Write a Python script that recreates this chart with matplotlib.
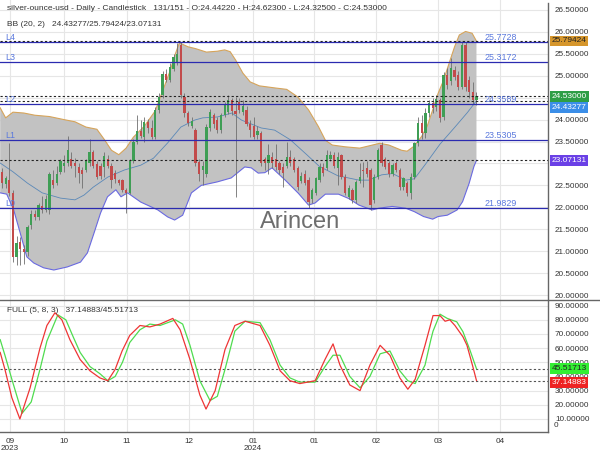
import numpy as np
import matplotlib.pyplot as plt
from matplotlib.lines import Line2D
from matplotlib.transforms import blended_transform_factory

plt.rcParams['font.family'] = ['Liberation Sans', 'DejaVu Sans']

# daily candles, silver-ounce-usd
opens = [22.80, 22.53, 22.62, 22.32, 20.87, 21.20, 21.05, 20.98, 21.60, 21.85,
         21.78, 22.02, 21.95, 21.95, 22.62, 22.55, 22.80, 22.95, 23.00, 23.10,
         23.00, 22.93, 22.85, 22.85, 23.00, 23.25, 22.98, 22.95, 22.92, 23.10,
         22.95, 22.78, 22.62, 22.62, 22.40, 22.32, 23.05, 23.50, 23.75, 23.60,
         23.95, 23.80, 23.60, 24.22, 24.55, 25.05, 24.90, 25.15, 25.30, 25.70,
         24.52, 24.14, 23.85, 23.76, 23.04, 22.85, 22.77, 23.80, 24.10, 24.00,
         23.76, 24.10, 24.18, 24.45, 24.20, 24.40, 24.18, 24.22, 23.91, 23.85,
         23.65, 23.69, 23.10, 23.00, 23.15, 23.10, 23.00, 22.93, 22.95, 23.15,
         23.10, 22.89, 22.60, 22.77, 22.62, 22.20, 22.32, 22.62, 22.93, 22.89,
         23.10, 23.20, 22.89, 23.19, 22.70, 22.24, 22.40, 22.16, 22.60, 22.85,
         22.90, 22.85, 22.16, 22.70, 23.42, 23.10, 23.00, 22.77, 23.00, 22.85,
         22.47, 22.55, 22.32, 22.70, 23.46, 23.92, 23.69, 24.14, 24.37, 24.29,
         24.45, 24.07, 25.02, 24.87, 25.13, 25.02, 24.75, 25.70, 24.90, 24.62,
         24.4422]
highs = [22.90, 22.72, 23.47, 22.40, 21.35, 21.33, 21.15, 21.60, 21.95, 21.95,
         22.10, 22.25, 22.28, 22.80, 22.85, 22.95, 23.10, 23.20, 23.62, 23.25,
         23.12, 23.00, 22.92, 23.10, 23.55, 23.30, 23.05, 23.00, 23.25, 23.20,
         23.00, 22.85, 22.65, 22.65, 22.45, 23.10, 23.55, 24.10, 24.00, 24.05,
         24.02, 23.98, 24.28, 24.60, 25.10, 25.15, 25.30, 25.50, 25.74, 25.76,
         24.60, 24.20, 24.05, 23.80, 23.10, 23.05, 23.90, 24.25, 24.15, 24.05,
         24.15, 24.40, 24.56, 24.50, 24.52, 24.50, 24.45, 24.30, 24.00, 24.05,
         23.85, 23.75, 23.15, 23.45, 23.25, 23.45, 23.05, 23.00, 23.50, 23.30,
         23.15, 22.95, 22.80, 22.85, 22.68, 22.45, 22.70, 23.00, 23.00, 23.30,
         23.28, 23.25, 23.25, 23.22, 22.75, 22.50, 22.45, 22.62, 23.00, 23.04,
         23.05, 22.90, 22.75, 23.35, 23.48, 23.15, 23.05, 23.00, 23.05, 22.90,
         22.70, 22.60, 22.78, 23.50, 24.05, 24.10, 24.26, 24.45, 24.50, 24.56,
         24.50, 25.08, 25.17, 25.40, 25.22, 25.10, 25.77, 25.77, 25.00, 24.85,
         24.623]
lows = [22.45, 22.45, 22.25, 20.75, 20.68, 20.68, 20.70, 20.90, 21.50, 21.70,
        21.70, 21.88, 21.90, 21.85, 22.45, 22.50, 22.75, 22.80, 22.95, 22.90,
        22.70, 22.55, 22.45, 22.80, 22.95, 22.90, 22.65, 22.65, 22.70, 22.90,
        22.45, 22.55, 22.50, 22.35, 21.86, 22.30, 23.00, 23.45, 23.58, 23.50,
        23.70, 23.55, 23.55, 24.15, 24.50, 24.85, 24.85, 25.10, 25.25, 24.50,
        24.05, 23.85, 23.80, 22.95, 22.60, 22.50, 22.70, 23.75, 23.80, 23.70,
        23.70, 24.05, 24.12, 24.10, 22.24, 24.15, 24.10, 23.85, 23.60, 23.55,
        23.55, 22.95, 22.85, 22.75, 22.90, 22.85, 22.75, 22.47, 22.90, 22.95,
        22.80, 22.40, 22.55, 22.50, 21.98, 22.10, 22.28, 22.58, 22.72, 22.85,
        23.05, 22.90, 22.50, 22.65, 22.28, 22.20, 22.10, 22.10, 22.55, 22.47,
        22.70, 21.94, 22.10, 22.65, 22.95, 22.88, 22.70, 22.72, 22.80, 22.40,
        22.40, 22.25, 22.20, 22.65, 23.40, 23.55, 23.57, 24.05, 24.15, 24.20,
        23.95, 24.00, 24.70, 24.80, 24.90, 24.68, 24.70, 24.65, 24.50, 24.35,
        24.325]
closes = [22.55, 22.66, 22.32, 20.87, 21.18, 21.05, 20.98, 21.55, 21.85, 21.78,
          22.05, 21.95, 22.20, 22.75, 22.50, 22.77, 23.05, 23.00, 23.30, 22.95,
          22.95, 22.78, 22.75, 23.05, 23.25, 22.95, 22.70, 22.72, 23.17, 22.95,
          22.62, 22.65, 22.55, 22.40, 22.33, 23.05, 23.50, 23.75, 23.62, 23.95,
          23.80, 23.60, 24.22, 24.52, 25.05, 24.90, 25.20, 25.43, 25.50, 24.55,
          24.14, 23.92, 23.97, 23.00, 22.77, 22.95, 23.84, 24.18, 23.90, 23.76,
          24.10, 24.33, 24.45, 24.20, 24.12, 24.22, 24.30, 23.91, 23.76, 23.60,
          23.75, 23.00, 23.00, 23.20, 23.00, 22.92, 22.85, 22.78, 23.15, 23.00,
          22.85, 22.47, 22.72, 22.55, 22.13, 22.40, 22.66, 22.93, 22.78, 23.19,
          23.20, 22.95, 23.15, 22.70, 22.32, 22.43, 22.16, 22.58, 22.70, 22.82,
          22.75, 22.05, 22.70, 23.30, 23.00, 22.93, 22.77, 22.96, 22.85, 22.47,
          22.66, 22.32, 22.70, 23.46, 23.92, 23.69, 24.14, 24.37, 24.26, 24.48,
          24.03, 25.02, 24.79, 25.17, 24.98, 24.75, 25.70, 24.75, 24.63, 24.44,
          24.53]

# Bollinger band (20, 2), at candle positions
bb_up_x = [-0.5, 1, 3, 6, 9, 13, 17, 20, 23, 26, 28, 30, 32, 34, 36, 39, 42, 44, 46,
           47.5, 48.6, 51, 53, 56, 59, 61, 62.5, 64, 66, 68, 70.5, 75, 78, 81, 84,
           86.7, 88.6, 90.5, 94, 98, 101.5, 103.5, 106, 109.5, 111, 113, 115, 116.5,
           118, 119.5, 121, 122.8, 124, 125.3, 127, 128.8, 130]
bb_up = [24.27, 24.04, 24.17, 24.15, 24.10, 24.07, 24.00, 23.95, 23.83, 23.78, 23.55,
         23.30, 23.20, 23.35, 23.60, 23.85, 24.20, 24.65, 25.10, 25.50, 25.75, 25.66,
         25.62, 25.54, 25.56, 25.59, 25.55, 25.36, 25.06, 24.86, 24.77, 24.72, 24.69,
         24.52, 24.22, 23.84, 23.53, 23.42, 23.38, 23.35, 23.42, 23.46, 23.42, 23.30,
         23.28, 23.40, 23.62, 23.85, 24.22, 24.60, 24.90, 25.36, 25.66, 25.93, 26.01,
         25.97, 25.79]
bb_mid_x = [-0.5, 3, 7, 11, 16, 20, 22.5, 25, 29, 33.5, 38, 41.5, 45.4, 49, 52.8, 55,
            59, 63, 65.6, 71, 74.7, 79, 83.5, 87, 92, 97.8, 100.5, 104, 107, 110.6,
            113, 116, 120, 124, 127.5, 130]
bb_mid = [23.01, 22.81, 22.55, 22.33, 22.21, 22.17, 22.28, 22.46, 22.69, 22.85, 22.96,
          23.12, 23.47, 23.83, 23.99, 24.04, 24.06, 24.15, 23.99, 23.81, 23.76, 23.54,
          23.20, 22.93, 22.72, 22.62, 22.62, 22.74, 22.77, 22.62, 22.65, 22.98, 23.44,
          23.82, 24.16, 24.43]
bb_low_x = [-0.5, 1.3, 3.2, 5, 6.8, 8.7, 11.4, 14.2, 17.9, 21.5, 23.4, 25.2, 27, 28.9,
            31.2, 32.6, 34.4, 38, 42.7, 45.4, 47.3, 49.5, 51.9, 54.6, 59, 62.8, 66.5,
            68.3, 70.2, 72, 74, 77.6, 81.2, 84, 85.8, 88.6, 92.2, 95, 97.8, 101.4,
            103.3, 106.9, 110.6, 113, 115.5, 118, 119.5, 122, 124.7, 126.2, 128, 129.3,
            130]
bb_low = [22.33, 22.30, 21.94, 21.41, 20.87, 20.73, 20.62, 20.57, 20.64, 20.75, 20.96,
          21.41, 21.87, 22.24, 22.40, 22.24, 22.33, 22.12, 21.94, 21.78, 21.71, 21.82,
          22.33, 22.50, 22.58, 22.67, 22.92, 22.90, 22.78, 22.79, 22.90, 22.62, 22.32,
          22.05, 22.10, 22.30, 22.30, 22.20, 22.05, 21.94, 21.98, 22.02, 21.98, 21.90,
          21.79, 21.73, 21.79, 21.82, 21.94, 22.13, 22.55, 22.93, 23.07]

# FULL stochastic (5, 8, 3)
k_x = [-0.5, 0.8, 2.7, 4.9, 7.7, 10.4, 12.3, 14.5, 16.4, 18.6, 21.4, 24.1, 26.8, 29,
       31, 32.9, 35, 37.8, 40.5, 43.3, 46.8, 48.8, 51.5, 54.2, 55.9, 58.4, 61.1, 63.8,
       66.6, 70.7, 73.4, 76.2, 78.9, 81.6, 85.8, 88.5, 90.7, 92.6, 95.3, 98.1, 100.8,
       103.6, 106.3, 109, 111.2, 113.2, 115.9, 118.1, 120, 121.4, 122.7, 124.1, 126.3,
       127.4, 129, 130]
k_vals = [57, 45, 25, 10, 32, 60, 76, 85, 80, 66, 52, 44, 39, 37, 45, 58, 69, 76, 75, 77,
          81, 73, 52, 27, 17, 30, 59, 76, 79, 76, 62, 44, 37, 35, 37, 52, 63, 48, 34, 30,
          48, 62, 55, 39, 31, 38, 62, 83, 83, 79, 80, 76, 68, 62, 47, 37.14883]
d_x = [-0.5, 0.8, 2.7, 5.5, 8, 10.4, 12.3, 15.3, 17.5, 19.5, 21.4, 24.1, 26.8, 29, 31,
       33, 35, 37.8, 40.5, 43.3, 47.5, 49.5, 51.5, 54.2, 57, 59, 61.1, 63.8, 66.6, 70.7,
       73.4, 76.2, 78.9, 81.6, 85.8, 88.5, 90.7, 92.6, 95.3, 98.1, 100.8, 103.6, 106.3,
       109, 111.2, 113.2, 115.9, 117.5, 118.1, 120, 122, 124.6, 126.3, 128.2, 130]
d_vals = [66, 55, 38, 14, 22, 45, 65, 83.5, 80, 68, 57, 47, 42, 37, 40, 50, 64, 73, 77,
          76, 80, 77, 62, 37, 23, 26, 45, 72, 79, 78, 66, 48, 39, 36, 36, 47, 55, 55, 40,
          32, 40, 56, 58, 44, 37, 35, 48, 66, 72, 84, 81, 78.6, 71.6, 58.7, 45.51713]

levels = [21.9829, 23.5305, 24.3589, 25.3172, 25.7728]
level_names = ['L0', 'L1', 'L2', 'L3', 'L4']
month_pos = [2.2, 17.0, 34.2, 51.2, 68.8, 85.5, 102.5, 119.5, 136.4]
month_labels = ['09\n2023', '10', '11', '12', '01\n2024', '01', '02', '03', '04']

bb_last = (24.43277, 25.79424, 23.07131)
k_last, d_last = 37.14883, 45.51713

W, H = 600, 450
fig = plt.figure(figsize=(6, 4.5), dpi=100)
ax = fig.add_axes([0, 150 / H, 548 / W, 300 / H])
ax2 = fig.add_axes([0, 18 / H, 548 / W, 132 / H])
for a in (ax, ax2):
    a.set_xlim(-0.55, 149.6)
    for s in a.spines.values():
        s.set_visible(False)
    a.set_xticks(month_pos)
    a.grid(color='#e6e6e6', lw=0.8, zorder=0)
    a.set_axisbelow(True)
    a.tick_params(length=0, labelsize=5.9, labelcolor='#333333', pad=5)
    a.yaxis.tick_right()

ax.set_ylim(19.886, 26.728)
ax.set_yticks(np.arange(20, 26.51, 0.5))
ax.set_yticklabels(['%.5f' % v for v in np.arange(20, 26.51, 0.5)])
ax.set_xticklabels([])

# bollinger band
poly_x = list(bb_up_x) + list(bb_low_x[::-1])
poly_y = list(bb_up) + list(bb_low[::-1])
ax.fill(poly_x, poly_y, color='#c2c2c2', lw=0, zorder=1)
ax.plot(bb_up_x, bb_up, color='#d6a45a', lw=0.8, zorder=2)
ax.plot(bb_low_x, bb_low, color='#6a6ae0', lw=0.8, zorder=2)
ax.plot(bb_mid_x, bb_mid, color='#5a88b8', lw=0.6, zorder=2)

# candles
idx = np.arange(len(closes))
o = np.array(opens); c = np.array(closes)
up = c >= o
ax.vlines(idx, lows, highs, color='#6f6f6f', lw=0.6, zorder=3)
ax.bar(idx, np.abs(c - o), bottom=np.minimum(o, c), width=0.62,
       color=np.where(up, '#3f9e55', '#c24b4b'), lw=0, zorder=3)

# support / resistance levels
for lv, nm in zip(levels, level_names):
    ax.axhline(lv, color='#2b2bb0', lw=0.9, zorder=4)
    ax.text(1, lv, nm, color='#5a78dd', fontsize=6.4, va='bottom', zorder=5)
    ax.text(132.3, lv, '%.4f' % lv, color='#5a78dd', fontsize=6.4, va='bottom', zorder=5)

for v in (bb_last[1], closes[-1], bb_last[0], bb_last[2]):
    ax.axhline(v, color='#222222', lw=0.8, ls=(0, (2, 2)), zorder=4)

ax.text(0.5, 21.66, 'Arincen', transform=blended_transform_factory(fig.transFigure, ax.transData),
        ha='center', va='center', fontsize=17, color='#555555', alpha=0.85, zorder=6)

tr = blended_transform_factory(ax.transAxes, ax.transData)
tags = [(bb_last[1], '#d6962c', '#222222', 0),
        (closes[-1], '#2e9e46', 'white', 0),
        (bb_last[0], '#3b8ee8', 'white', -4.8),
        (bb_last[2], '#6a40e6', 'white', 0)]
for val, bg, fg, dy in tags:
    ax.annotate('%.5f' % val, xy=(1, val), xycoords=tr, xytext=(2.5, dy),
                textcoords='offset points', va='center', ha='left', fontsize=6.0,
                color=fg, annotation_clip=False,
                bbox=dict(boxstyle='square,pad=0.22', fc=bg, ec='none'))

# stochastic panel
ax2.set_ylim(0.8, 94.0)
ax2.set_yticks(np.arange(10, 91, 10))
ax2.set_yticklabels(['%.5f' % v for v in np.arange(10, 91, 10)])
ax2.set_xticklabels(month_labels)
ax2.tick_params(axis='x', pad=4)
for lbl in ax2.get_xticklabels():
    lbl.set_linespacing(1.0)
ax2.text(1.01, 3, '0', transform=blended_transform_factory(ax2.transAxes, ax2.transData),
         fontsize=5.9, color='#333333', va='bottom')
ax2.plot(d_x, d_vals, color='#4fdc4f', lw=0.9, zorder=3)
ax2.plot(k_x, k_vals, color='#ee3535', lw=0.9, zorder=3)
for v in (d_last, k_last):
    ax2.axhline(v, color='#555555', lw=0.8, ls=(0, (2, 2)), zorder=2)
tr2 = blended_transform_factory(ax2.transAxes, ax2.transData)
for val, bg, fg, dy in [(d_last, '#33ee33', '#222222', 0), (k_last, '#ee2222', 'white', -1.5)]:
    ax2.annotate('%.5f' % val, xy=(1, val), xycoords=tr2, xytext=(2.5, dy),
                 textcoords='offset points', va='center', ha='left', fontsize=6.0,
                 color=fg, annotation_clip=False,
                 bbox=dict(boxstyle='square,pad=0.22', fc=bg, ec='none'))

# frame lines
fig.add_artist(Line2D([548 / W, 548 / W], [1 - 3 / H, 18 / H], color='#666666', lw=1.0))
fig.add_artist(Line2D([0, 1], [150 / H, 150 / H], color='#666666', lw=1.0))
fig.add_artist(Line2D([0, 548 / W], [18 / H, 18 / H], color='#666666', lw=1.0))

fig.text(7 / W, 1 - 8 / H, 'silver-ounce-usd - Daily - Candlestick   131/151 - O:24.44220 - '
         'H:24.62300 - L:24.32500 - C:24.53000', fontsize=6.0, color='#333333', va='center')
fig.text(7 / W, 1 - 25 / H, 'BB (20, 2)   24.43277/25.79424/23.07131', fontsize=6.0,
         color='#333333', va='center')
fig.text(7 / W, 1 - 311 / H, 'FULL (5, 8, 3)   37.14883/45.51713', fontsize=6.0,
         color='#333333', va='center')

fig.savefig('out.png', dpi=100)
